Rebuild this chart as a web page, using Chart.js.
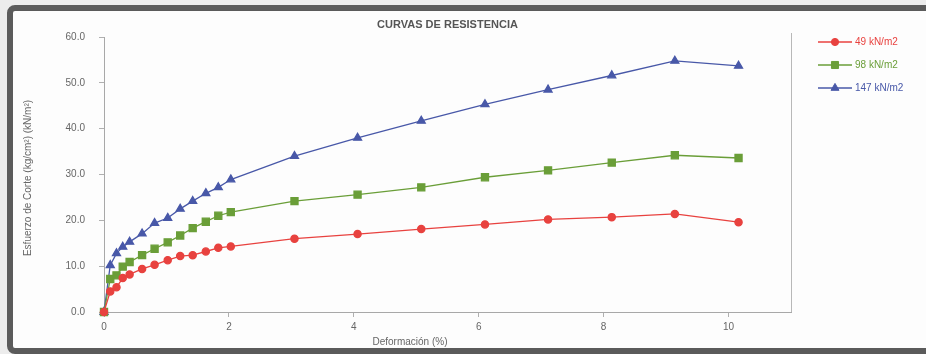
<!DOCTYPE html>
<html><head><meta charset="utf-8">
<script src="https://cdn.jsdelivr.net/npm/chart.js@4.4.0/dist/chart.umd.min.js"></script>
<style>
html,body{margin:0;padding:0;background:#ececec;width:926px;height:354px;overflow:hidden;}
#frame{position:absolute;left:7px;top:5px;width:960px;height:337px;border:6px solid #5b5b5b;border-radius:8px;background:#fdfdfd;}
#c{position:absolute;left:0;top:0;}
</style></head><body>
<div id="frame"></div>
<canvas id="c" width="926" height="354"></canvas>
<script>
const chartTitle = 'CURVAS DE RESISTENCIA';
const xTitle = 'Deformación (%)';
const yTitle = 'Esfuerzo de Corte (kg/cm²) (kN/m²)';
const seriesNames = ['49 kN/m2', '98 kN/m2', '147 kN/m2'];
const deformation = [0, 0.10, 0.20, 0.30, 0.41, 0.61, 0.81, 1.02, 1.22, 1.42, 1.63, 1.83, 2.03, 3.05, 4.06, 5.08, 6.10, 7.11, 8.13, 9.14, 10.16];
const stress49  = [0, 4.5, 5.4, 7.4, 8.2, 9.4, 10.3, 11.3, 12.2, 12.4, 13.2, 14.0, 14.3, 16.0, 17.0, 18.1, 19.1, 20.2, 20.7, 21.4, 19.6];
const stress98  = [0, 7.2, 8.0, 9.9, 10.9, 12.4, 13.8, 15.2, 16.7, 18.3, 19.7, 21.0, 21.8, 24.2, 25.6, 27.2, 29.4, 30.9, 32.6, 34.2, 33.6];
const stress147 = [0, 10.2, 12.8, 14.2, 15.3, 17.1, 19.4, 20.5, 22.5, 24.2, 25.9, 27.2, 28.9, 34.0, 38.0, 41.7, 45.3, 48.5, 51.6, 54.8, 53.7];
const xTickValues = [0, 2, 4, 6, 8, 10];
const seriesColors = ['#e8423f', '#6a9e38', '#4858a8'];
const seriesMarkers = ['circle', 'rect', 'triangle'];
const markerRadius = [3.6, 5, 4.6];

const seriesValues = [stress49, stress98, stress147];
const FONT = '"Liberation Sans", Arial, sans-serif';

const decor = {
  id: 'decor',
  afterDraw(chart) {
    const {ctx, chartArea: a} = chart;
    ctx.save();
    ctx.strokeStyle = '#b8b8b8'; ctx.lineWidth = 1;
    ctx.beginPath(); ctx.moveTo(Math.round(a.right) + 0.5, a.top - 4); ctx.lineTo(Math.round(a.right) + 0.5, a.bottom); ctx.stroke();
    ctx.textAlign = 'center'; ctx.textBaseline = 'middle';
    ctx.fillStyle = '#555'; ctx.font = 'bold 11px ' + FONT;
    ctx.fillText(chartTitle, (a.left + a.right) / 2, 25);
    ctx.fillStyle = '#666'; ctx.font = '10px ' + FONT;
    ctx.fillText(xTitle, a.left + 306, 342);
    ctx.save(); ctx.translate(28, 178); ctx.rotate(-Math.PI / 2);
    ctx.fillText(yTitle, 0, 0); ctx.restore();
    chart.data.datasets.forEach((ds, i) => {
      const ly = 42 + i * 23;
      ctx.strokeStyle = ds.borderColor; ctx.lineWidth = 1.3;
      ctx.beginPath(); ctx.moveTo(818, ly); ctx.lineTo(852, ly); ctx.stroke();
      ctx.fillStyle = ds.pointBackgroundColor; ctx.strokeStyle = ds.pointBorderColor; ctx.lineWidth = 1;
      Chart.helpers.drawPoint(ctx, {pointStyle: ds.pointStyle, radius: ds.pointRadius, rotation: 0, borderWidth: 1}, 835, ly);
      ctx.fillStyle = ds.borderColor; ctx.font = '10px ' + FONT; ctx.textAlign = 'left';
      ctx.fillText(ds.label, 855, ly);
    });
    ctx.restore();
  }
};

new Chart(document.getElementById('c'), {
  type: 'line',
  data: {
    datasets: seriesNames.map((name, i) => ({
      label: name,
      data: deformation.map((d, k) => ({x: d, y: seriesValues[i][k]})),
      borderColor: seriesColors[i],
      backgroundColor: seriesColors[i],
      pointBackgroundColor: seriesColors[i],
      pointBorderColor: seriesColors[i],
      pointStyle: seriesMarkers[i],
      pointRadius: markerRadius[i],
      borderWidth: 1.3,
      tension: 0,
      clip: false
    }))
  },
  plugins: [decor],
  options: {
    responsive: false,
    animation: false,
    layout: {padding: {top: 37, right: 135, bottom: 0, left: 0}},
    plugins: {legend: {display: false}, tooltip: {enabled: false}, title: {display: false}},
    scales: {
      x: {
        type: 'linear', min: 0, max: 11,
        afterBuildTicks: s => { s.ticks = xTickValues.map(v => ({value: v})); },
        afterFit: s => { s.height = 42; },
        grid: {drawOnChartArea: false, drawTicks: true, tickLength: 5, color: '#b0b0b0'},
        border: {display: true, color: '#a8a8a8'},
        ticks: {color: '#666', font: {family: FONT, size: 10}, padding: 4, maxRotation: 0,
          callback: v => String(v)}
      },
      y: {
        min: 0, max: 60,
        ticks: {stepSize: 10, color: '#666', font: {family: FONT, size: 10}, padding: 14,
          callback: v => Number(v).toFixed(1)},
        afterFit: s => { s.width = 104; },
        grid: {drawOnChartArea: false, drawTicks: true, tickLength: 5, color: '#b0b0b0'},
        border: {display: true, color: '#a8a8a8'}
      }
    }
  }
});
</script>
</body></html>
